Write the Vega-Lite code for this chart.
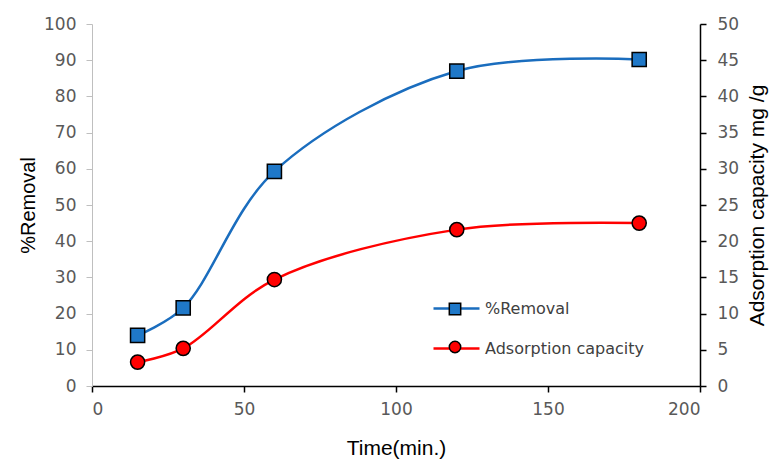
{
  "$schema": "https://vega.github.io/schema/vega-lite/v6.json",
  "width": 608,
  "height": 362,
  "autosize": {"type": "none"},
  "padding": {"left": 92, "top": 24, "right": 77, "bottom": 73},
  "background": "white",
  "config": {
    "view": {"stroke": null},
    "axis": {"grid": false, "labelFont": "DejaVu Sans", "labelFontSize": 17, "labelColor": "#595959", "titleFont": "Liberation Sans", "titleFontSize": 21, "titleFontWeight": "normal", "titleColor": "#000000"},
    "legend": {"labelFont": "DejaVu Sans", "labelFontSize": 16, "labelColor": "#404040"}
  },
  "data": {"values": [
    {"time": 15, "series": "%Removal", "value": 14},
    {"time": 30, "series": "%Removal", "value": 21.6},
    {"time": 60, "series": "%Removal", "value": 59.3},
    {"time": 120, "series": "%Removal", "value": 87},
    {"time": 180, "series": "%Removal", "value": 90.2},
    {"time": 15, "series": "Adsorption capacity", "value": 3.3},
    {"time": 30, "series": "Adsorption capacity", "value": 5.2},
    {"time": 60, "series": "Adsorption capacity", "value": 14.7},
    {"time": 120, "series": "Adsorption capacity", "value": 21.6},
    {"time": 180, "series": "Adsorption capacity", "value": 22.5}
  ]},
  "encoding": {
    "x": {"field": "time", "type": "quantitative", "scale": {"domain": [0, 200], "nice": false},
      "axis": {"values": [0, 50, 100, 150, 200], "title": "Time(min.)", "domainColor": "#000000", "domainWidth": 1.5, "tickColor": "#000000", "tickWidth": 1.5, "tickSize": 6, "labelPadding": 9, "titlePadding": 20}}
  },
  "layer": [
    {
      "transform": [{"filter": "datum.series === '%Removal'"}],
      "encoding": {
        "y": {"field": "value", "type": "quantitative", "scale": {"domain": [0, 100], "nice": false},
          "axis": {"orient": "left", "values": [0,10,20,30,40,50,60,70,80,90,100], "title": "%Removal", "titleFontSize": 20, "domainColor": "#BFBFBF", "tickColor": "#BFBFBF", "tickSize": 6, "labelPadding": 10, "titlePadding": 5}}
      },
      "layer": [
        {"mark": {"type": "line", "interpolate": "catmull-rom", "strokeWidth": 2.5},
         "encoding": {"color": {"field": "series", "type": "nominal",
           "scale": {"domain": ["%Removal", "Adsorption capacity"], "range": ["#1A6DBE", "#FF0000"]},
           "legend": {"orient": "none", "legendX": 340, "legendY": 260, "title": null, "symbolType": "stroke", "symbolSize": 2116, "symbolStrokeWidth": 2.5, "rowPadding": 7, "labelOffset": 4}}}},
        {"mark": {"type": "point", "filled": true, "stroke": "#000000", "strokeWidth": 1.5, "opacity": 1, "size": 200},
         "encoding": {
           "fill": {"field": "series", "type": "nominal", "scale": {"range": ["#1F78C8", "#FF0000"]},
             "legend": {"orient": "bottom-right", "offset": 30, "title": null, "symbolStrokeColor": "#000000", "symbolStrokeWidth": 1.5, "symbolSize": 130, "symbolOpacity": 1, "labelExpr": "''", "labelOffset": 207, "rowPadding": 20}},
           "shape": {"field": "series", "type": "nominal", "scale": {"range": ["square", "circle"]}}
         }}
      ]
    },
    {
      "transform": [{"filter": "datum.series === 'Adsorption capacity'"}],
      "encoding": {
        "y": {"field": "value", "type": "quantitative", "scale": {"domain": [0, 50], "nice": false},
          "axis": {"orient": "right", "values": [0,5,10,15,20,25,30,35,40,45,50], "title": "Adsorption capacity mg /g", "titleAngle": 270, "titleBaseline": "top", "domainColor": "#000000", "domainWidth": 1.5, "tickColor": "#000000", "tickWidth": 1.5, "tickSize": 6, "labelPadding": 11, "titlePadding": 8}}
      },
      "layer": [
        {"mark": {"type": "line", "interpolate": "catmull-rom", "strokeWidth": 2.5},
         "encoding": {"color": {"field": "series", "type": "nominal"}}},
        {"mark": {"type": "point", "filled": true, "stroke": "#000000", "strokeWidth": 1.5, "opacity": 1, "size": 200},
         "encoding": {
           "fill": {"field": "series", "type": "nominal"},
           "shape": {"field": "series", "type": "nominal"}
         }}
      ]
    }
  ],
  "resolve": {"scale": {"y": "independent"}}
}
